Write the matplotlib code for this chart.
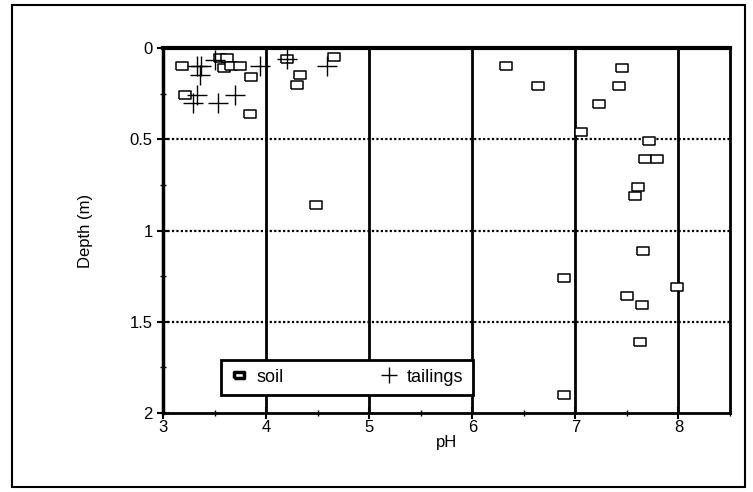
import matplotlib
matplotlib.use("Agg")
import matplotlib.pyplot as plt
from matplotlib.patches import Rectangle
from matplotlib.ticker import MultipleLocator

plt.rcParams["font.family"] = ["Liberation Sans", "DejaVu Sans"]

# soil samples (pH, depth m)
soil_ph = [3.18, 3.55, 3.62, 3.59, 3.66, 3.75, 3.85, 3.21, 3.84,
           4.20, 4.33, 4.30, 4.66, 4.48,
           6.33, 6.64, 7.45, 7.42, 7.23, 7.05, 7.71, 7.68, 7.79, 7.61, 7.58,
           7.66, 7.99, 7.50, 7.65, 7.63, 6.89, 6.89]
soil_depth = [0.10, 0.055, 0.055, 0.11, 0.10, 0.10, 0.16, 0.26, 0.36,
              0.06, 0.15, 0.20, 0.05, 0.86,
              0.10, 0.21, 0.11, 0.21, 0.305, 0.46, 0.51, 0.61, 0.61, 0.76, 0.81,
              1.11, 1.31, 1.36, 1.41, 1.61, 1.26, 1.90]

# tailings samples
tail_ph = [3.33, 3.37, 3.36, 3.50, 3.94, 3.33, 3.29, 3.53, 3.70, 4.20, 4.59]
tail_depth = [0.10, 0.10, 0.15, 0.066, 0.10, 0.26, 0.30, 0.30, 0.26, 0.06, 0.10]

rect = [(-1.4, -1.0), (1.4, -1.0), (1.4, 1.0), (-1.4, 1.0), (-1.4, -1.0)]

fig = plt.figure(figsize=(7.53, 4.92), dpi=100)
ax = fig.add_axes([0.2165, 0.1606, 0.7530, 0.7418])

for x in [4, 5, 6, 7, 8]:
    ax.axvline(x, color="black", lw=2, zorder=1)
for y in [0.5, 1.0, 1.5]:
    ax.axhline(y, color="black", lw=1.6, ls=(0, (1, 1)), zorder=1)

ax.plot(soil_ph, soil_depth, ls="none", marker=rect, ms=8.5, mfc="white",
        mec="black", mew=1.1, label="soil", zorder=3)
ax.plot(tail_ph, tail_depth, ls="none", marker="+", ms=14, mec="black",
        mew=1.0, label="tailings", zorder=4)

ax.set_xlim(3, 8.5)
ax.set_ylim(2, 0)
ax.xaxis.set_major_locator(MultipleLocator(1))
ax.xaxis.set_minor_locator(MultipleLocator(0.5))
ax.yaxis.set_major_locator(MultipleLocator(0.5))
ax.yaxis.set_minor_locator(MultipleLocator(0.25))
ax.tick_params(which="major", direction="inout", length=8, width=1.5, labelsize=12)
ax.tick_params(axis="x", which="major", pad=1)
ax.tick_params(which="minor", direction="inout", length=5, width=1)
ax.set_xticks([3, 4, 5, 6, 7, 8])
ax.set_xticklabels(["3", "4", "5", "6", "7", "8"])
ax.set_yticks([0, 0.5, 1, 1.5, 2])
ax.set_yticklabels(["0", "0.5", "1", "1.5", "2"])

ax.spines["top"].set_linewidth(3)
ax.spines["left"].set_linewidth(2.5)
ax.spines["bottom"].set_linewidth(2)
ax.spines["right"].set_linewidth(2)

ax.set_xlabel("pH", fontsize=12, labelpad=0)
ax.set_ylabel("Depth (m)", fontsize=12, labelpad=26)

leg = ax.legend(loc="lower left", bbox_to_anchor=(0.086, 0.025, 0.476, 0.1),
                mode="expand", ncol=2, fontsize=13, frameon=True, fancybox=False,
                framealpha=1, edgecolor="black", borderpad=0.5, handletextpad=0.5,
                handlelength=1.0, markerscale=0.8)
leg.get_frame().set_linewidth(2)
leg.set_zorder(5)
for h in leg.legend_handles[:1]:
    h.set_markeredgewidth(2.5)

fig.patches.append(Rectangle((12 / 753, 5 / 492), 733 / 753, 482 / 492,
                             transform=fig.transFigure, fill=False,
                             edgecolor="black", lw=1.5))

fig.savefig("out.png", dpi=100)
